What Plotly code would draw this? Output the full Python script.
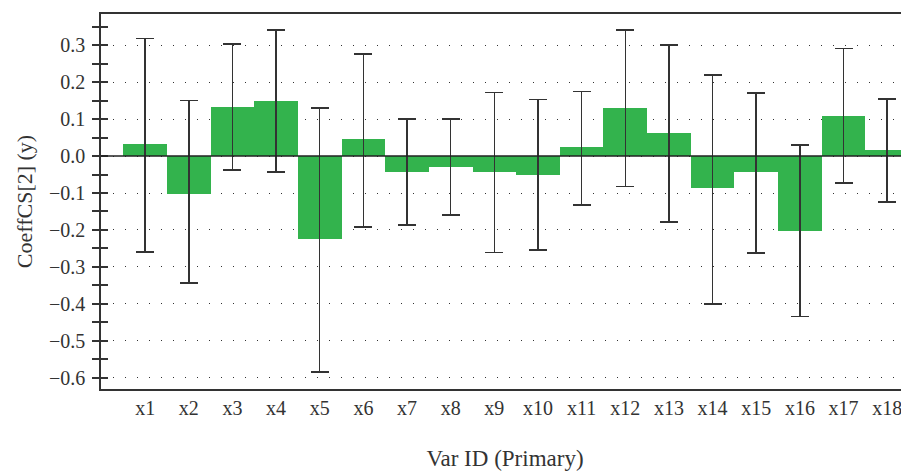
import plotly.graph_objects as go

categories = ["x1", "x2", "x3", "x4", "x5", "x6", "x7", "x8", "x9", "x10",
              "x11", "x12", "x13", "x14", "x15", "x16", "x17", "x18"]
coef = [0.032, -0.102, 0.133, 0.149, -0.224, 0.046, -0.043, -0.029, -0.043, -0.051,
        0.024, 0.130, 0.062, -0.086, -0.043, -0.202, 0.108, 0.016]
upper = [0.319, 0.150, 0.304, 0.341, 0.131, 0.277, 0.100, 0.101, 0.173, 0.153,
         0.175, 0.341, 0.301, 0.220, 0.171, 0.030, 0.291, 0.155]
lower = [-0.260, -0.344, -0.038, -0.043, -0.585, -0.192, -0.187, -0.160, -0.261, -0.255,
         -0.132, -0.082, -0.178, -0.401, -0.263, -0.435, -0.073, -0.124]

err_plus = [u - c for u, c in zip(upper, coef)]
err_minus = [c - l for l, c in zip(lower, coef)]

FONT = "'Liberation Serif', 'DejaVu Serif', serif"
TXT = "#333333"

fig = go.Figure()
fig.add_trace(go.Bar(
    x=categories, y=coef,
    marker=dict(color="#33b34d", line=dict(width=0)),
    error_y=dict(type="data", symmetric=False, array=err_plus, arrayminus=err_minus,
                 color="#333333", thickness=1.5, width=9),
    showlegend=False,
))
# helper trace for the inner half of the crossing y ticks
fig.add_trace(go.Scatter(x=[categories[0]], y=[0], yaxis="y2", mode="markers",
                         marker=dict(opacity=0), showlegend=False, hoverinfo="skip"))

yrange = [-0.631, 0.385]
fig.update_layout(
    width=901, height=464,
    margin=dict(l=93, r=0, t=6, b=83, autoexpand=False),
    paper_bgcolor="white", plot_bgcolor="white",
    bargap=0,
    font=dict(family=FONT, size=20, color=TXT),
    xaxis=dict(
        showline=True, linecolor="#333333", linewidth=1.5, mirror=True,
        ticks="", showgrid=False, automargin=False,
        tickfont=dict(family=FONT, size=20, color=TXT),
        title=dict(text="Var ID (Primary)", font=dict(family=FONT, size=23, color=TXT), standoff=32),
    ),
    yaxis=dict(
        range=yrange, showline=True, linecolor="#333333", linewidth=1.5,
        tickmode="linear", tick0=0, dtick=0.1, tickformat=".1f", automargin=False,
        ticks="outside", ticklen=7, tickwidth=1.5, tickcolor="#333333",
        minor=dict(tickmode="linear", tick0=0.05, dtick=0.1, ticks="outside", ticklen=7,
                   tickwidth=1.5, tickcolor="#333333", showgrid=False),
        showgrid=True, gridcolor="#333333", gridwidth=1.2, griddash="1px,11px",
        zeroline=False,
        tickfont=dict(family=FONT, size=20, color=TXT),
        ticklabelstandoff=3,
        title=dict(text="CoeffCS[2] (y)", font=dict(family=FONT, size=22, color=TXT), standoff=10),
    ),
    yaxis2=dict(
        range=yrange, overlaying="y", side="left", anchor="x",
        tickmode="linear", tick0=0, dtick=0.05, ticks="inside", ticklen=7,
        tickwidth=1.5, tickcolor="#333333", showticklabels=False,
        showgrid=False, zeroline=False, showline=False,
    ),
    shapes=[dict(type="line", xref="paper", yref="y", x0=0, x1=1, y0=0, y1=0,
                 line=dict(color="#222222", width=1.5), layer="above")],
)

fig.write_html("out.html")
